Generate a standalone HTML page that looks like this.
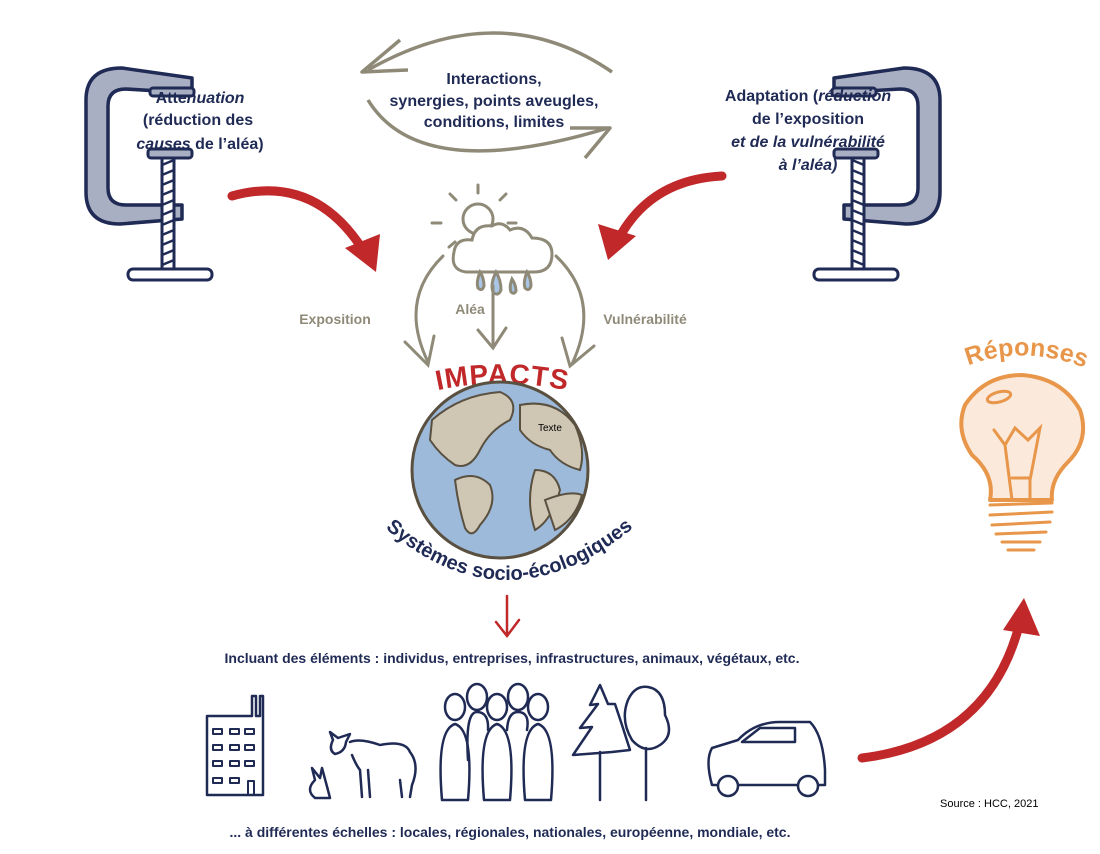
<!DOCTYPE html>
<html><head><meta charset="utf-8"><style>
html,body{margin:0;padding:0;background:#fff;}
svg{display:block;font-family:"Liberation Sans",sans-serif;}
.nv{fill:#1f2a55;font-weight:bold;}
</style></head><body>
<svg width="1100" height="854" viewBox="0 0 1100 854" xmlns="http://www.w3.org/2000/svg">
<defs>
<g id="clamp">
<path d="M192,78 L122,68 Q86,68 86,100 L86,192 Q86,224 120,224 L182,219 L182,205 L126,205 Q108,205 108,188 L108,106 Q108,89 126,89 L192,93 Z" fill="#a9afc3" stroke="#1f2a55" stroke-width="3.5" stroke-linejoin="round"/>
<rect x="150" y="88" width="44" height="8" rx="3" fill="#a9afc3" stroke="#1f2a55" stroke-width="3"/>
<rect x="148" y="149" width="44" height="9" rx="3" fill="#a9afc3" stroke="#1f2a55" stroke-width="3"/>
<rect x="162" y="158" width="12" height="114" fill="#fff" stroke="#1f2a55" stroke-width="3"/>
<path d="M162,165 l12,-5 M162,175 l12,-5 M162,185 l12,-5 M162,195 l12,-5 M162,205 l12,-5 M162,215 l12,-5 M162,225 l12,-5 M162,235 l12,-5 M162,245 l12,-5 M162,255 l12,-5 M162,265 l12,-5" stroke="#1f2a55" stroke-width="2.5"/>
<rect x="128" y="269" width="84" height="11" rx="5" fill="#fff" stroke="#1f2a55" stroke-width="3"/>
</g>
<path id="arcS" d="M374,518 Q505,642 645,518"/>
<path id="arcI" d="M430,392 Q500,375 575,392"/>
<path id="arcR" d="M958,370 Q1022,340 1095,372"/>
</defs>

<use href="#clamp"/>
<g transform="translate(1026,0) scale(-1,1)"><use href="#clamp"/></g>

<text class="nv" font-size="16" text-anchor="middle"><tspan x="200" y="103">Atte<tspan font-style="italic">nuation</tspan></tspan><tspan x="198" y="125">(réduction des</tspan><tspan x="200" y="149"><tspan font-style="italic">causes</tspan> de l’aléa)</tspan></text>
<text class="nv" font-size="16" text-anchor="middle"><tspan x="808" y="101">Adaptation (<tspan font-style="italic">réduction</tspan></tspan><tspan x="808" y="124">de l’exposition</tspan><tspan x="808" y="147" font-style="italic">et de la vulnérabilité</tspan><tspan x="808" y="170" font-style="italic">à l’aléa)</tspan></text>

<path d="M612,72 Q500,-5 368,70" fill="none" stroke="#8f8a78" stroke-width="3.5"/>
<path d="M400,40 L362,72 L408,70" fill="none" stroke="#8f8a78" stroke-width="3.5" stroke-linejoin="round"/>
<path d="M368,100 Q420,185 608,128" fill="none" stroke="#8f8a78" stroke-width="3.5"/>
<path d="M570,128 L610,128 L585,158" fill="none" stroke="#8f8a78" stroke-width="3.5" stroke-linejoin="round"/>
<text class="nv" font-size="16" text-anchor="middle"><tspan x="494" y="84">Interactions,</tspan><tspan x="494" y="106">synergies, points aveugles,</tspan><tspan x="494" y="127">conditions, limites</tspan></text>

<path d="M232,196 Q318,172 368,258" fill="none" stroke="#c0282a" stroke-width="9" stroke-linecap="round"/>
<path d="M345,248 L376,272 L380,234 Z" fill="#c0282a"/>
<path d="M722,176 Q645,180 614,248" fill="none" stroke="#c0282a" stroke-width="9" stroke-linecap="round"/>
<path d="M598,224 L608,260 L636,236 Z" fill="#c0282a"/>
<path d="M862,758 Q990,742 1020,622" fill="none" stroke="#c0282a" stroke-width="9" stroke-linecap="round"/>
<path d="M1003,630 L1024,598 L1040,636 Z" fill="#c0282a"/>

<g fill="none" stroke="#8f8a78" stroke-width="3" stroke-linecap="round">
<circle cx="478" cy="219" r="15" fill="#fff"/>
<path d="M478,193 v-8 M456,200 l-6,-6 M500,200 l6,-6 M441,223 h-9 M508,223 h8 M455,242 l-6,5"/>
<path d="M466,272 Q450,270 454,252 Q456,238 472,240 Q475,224 492,226 Q502,220 510,230 Q524,224 532,238 Q552,238 552,254 Q552,272 534,272 Z" fill="#fff"/>
<path d="M480,272 q-4,10 -2,16 q4,4 6,-2 q0,-8 -4,-14 Z M496,272 q-6,12 -3,20 q5,5 8,-2 q0,-10 -5,-18 Z M512,279 q-3,8 -1,13 q3,3 5,-1 q0,-6 -4,-12 Z M527,272 q-4,10 -2,16 q4,4 6,-2 q0,-8 -4,-14 Z" fill="#a9c6e6"/>
<path d="M443,256 Q398,300 428,362"/>
<path d="M556,256 Q602,300 572,364"/>
<path d="M493,286 V345"/>
<path d="M478,330 L493,348 L506,328"/>
<path d="M405,342 L428,365 L434,336"/>
<path d="M562,338 L570,366 L594,346"/>
</g>
<text x="335" y="324" font-size="14" font-weight="bold" fill="#8f8a78" text-anchor="middle">Exposition</text>
<text x="470" y="314" font-size="14" font-weight="bold" fill="#8f8a78" text-anchor="middle">Aléa</text>
<text x="645" y="324" font-size="14" font-weight="bold" fill="#8f8a78" text-anchor="middle">Vulnérabilité</text>

<text font-size="28" font-weight="bold" fill="#c0282a" text-anchor="middle" letter-spacing="1"><textPath href="#arcI" startOffset="50%">IMPACTS</textPath></text>

<circle cx="500" cy="470" r="88" fill="#9dbadb" stroke="#5a5040" stroke-width="3"/>
<g fill="#cfc6b4" stroke="#5a5040" stroke-width="2">
<path d="M432,420 Q460,395 500,392 Q520,400 510,420 Q490,430 480,450 Q470,470 455,465 Q440,455 430,440 Z"/>
<path d="M455,480 Q475,470 490,485 Q498,505 480,525 Q472,540 465,528 Q458,505 455,480 Z"/>
<path d="M520,405 Q555,398 575,425 Q586,450 580,470 Q560,465 550,450 Q530,445 520,430 Z"/>
<path d="M535,470 Q555,470 560,490 Q552,520 535,530 Q525,500 535,470 Z"/>
<path d="M545,500 Q570,490 582,495 Q575,520 555,530 Z"/>
</g>
<text x="538" y="431" font-size="10" fill="#000">Texte</text>
<text font-size="20" font-weight="bold" fill="#1f2a55" text-anchor="middle"><textPath href="#arcS" startOffset="50%">Systèmes socio-écologiques</textPath></text>

<path d="M507,596 V634 M496,622 L507,636 L519,620" fill="none" stroke="#c0282a" stroke-width="2.5" stroke-linecap="round"/>
<text x="512" y="663" class="nv" font-size="14" text-anchor="middle">Incluant des éléments : individus, entreprises, infrastructures, animaux, végétaux, etc.</text>
<text x="510" y="837" class="nv" font-size="14" text-anchor="middle">... à différentes échelles : locales, régionales, nationales, européenne, mondiale, etc.</text>
<text x="940" y="807" font-size="11" fill="#000">Source : HCC, 2021</text>

<g fill="none" stroke="#1f2a55" stroke-width="2.5" stroke-linejoin="round" stroke-linecap="round">
<path d="M207,795 V716 H252 V696 H256 V716 H260 V696 H263 V795 Z"/>
<g stroke-width="2"><rect x="213" y="729" width="9" height="5"/><rect x="230" y="729" width="9" height="5"/><rect x="245" y="729" width="9" height="5"/>
<rect x="213" y="745" width="9" height="5"/><rect x="230" y="745" width="9" height="5"/><rect x="245" y="745" width="9" height="5"/>
<rect x="213" y="761" width="9" height="5"/><rect x="230" y="761" width="9" height="5"/><rect x="245" y="761" width="9" height="5"/>
<rect x="213" y="778" width="9" height="5"/><rect x="230" y="778" width="9" height="5"/><rect x="248" y="781" width="6" height="14"/></g>
<path d="M333,740 L330,732 L338,738 L350,734 L346,742 Q345,752 335,754 Q328,750 333,740 Z"/>
<path d="M350,742 Q360,738 380,745 Q405,740 410,752 Q420,765 412,785 L410,797 M400,780 L402,797 M360,770 L362,797 M368,770 L370,797 M352,755 Q356,765 360,770"/>
<path d="M315,798 Q305,790 315,780 L312,768 L320,778 L322,768 Q328,790 330,798 Z"/>
<ellipse cx="455" cy="707" rx="10" ry="13"/><ellipse cx="477" cy="697" rx="10" ry="13"/><ellipse cx="497" cy="707" rx="10" ry="13"/><ellipse cx="518" cy="697" rx="10" ry="13"/><ellipse cx="538" cy="707" rx="10" ry="13"/>
<path d="M442,800 Q436,730 455,724 Q474,730 468,800 Z"/>
<path d="M484,800 Q478,730 497,724 Q516,730 510,800 Z"/>
<path d="M525,800 Q519,730 538,724 Q557,730 551,800 Z"/>
<path d="M468,760 Q465,712 477,712 Q489,712 488,730 M507,730 Q508,712 518,712 Q530,712 527,730"/>
<path d="M600,685 L590,705 L598,704 L580,728 L592,727 L573,755 L612,752 L630,750 L622,725 L615,704 L608,704 Z M600,752 V800"/>
<path d="M632,740 Q620,720 628,700 Q635,685 648,687 Q665,690 665,715 Q675,735 660,745 Q645,755 632,740 Z M646,748 V800"/>
<path d="M712,785 Q705,760 712,748 L738,740 Q755,722 780,722 L810,722 Q823,735 825,770 L825,785 Z"/>
<path d="M742,742 L760,728 L795,728 L795,742 Z"/>
<circle cx="728" cy="786" r="10" fill="#fff"/><circle cx="808" cy="786" r="10" fill="#fff"/>
</g>

<text font-size="25" font-weight="bold" fill="#e8964a" text-anchor="middle"><textPath href="#arcR" startOffset="50%">Réponses</textPath></text>
<path d="M990,500 Q995,475 972,455 Q955,430 965,405 Q985,375 1022,375 Q1062,378 1080,410 Q1090,440 1068,462 Q1050,480 1052,500 Z" fill="#fbe9db" stroke="#e8964a" stroke-width="4" stroke-linejoin="round"/>
<g fill="none" stroke="#e8964a" stroke-width="3" stroke-linecap="round">
<ellipse cx="999" cy="397" rx="12" ry="5" transform="rotate(-15 999 397)"/>
<path d="M994,430 L1005,445 L1015,428 L1028,440 L1040,428 L1030,480 M1005,445 L1012,500 M1030,480 L1030,500 M1012,478 H1030"/>
<path d="M990,505 L1052,503 M990,515 L1052,512 M992,525 L1050,522 M996,534 L1046,532 M1002,542 L1040,542 M1008,550 L1034,550"/>
</g>
</svg>
</body></html>
